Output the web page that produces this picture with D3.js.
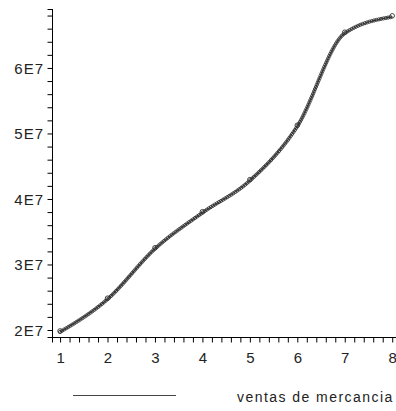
<html>
<head>
  <script src="https://d3js.org/d3.v7.min.js"></script>
  <title>ventas de mercancia</title>
  <style>
    body { margin: 0; background: white; }
    text { font-family: "Liberation Sans", Arial, sans-serif; fill: #222; }
  </style>
</head>
<body>
  <div id="container"></div>
  <script>
    // data (y in units of 1E7)
    var years = [1, 2, 3, 4, 5, 6, 7, 8];
    var ventas = [1.97, 2.47, 3.24, 3.79, 4.28, 5.11, 6.53, 6.78];
    var xTicks = [1, 2, 3, 4, 5, 6, 7, 8];
    var yTicks = [2, 3, 4, 5, 6];
    var yTickLabels = ["2E7", "3E7", "4E7", "5E7", "6E7"];
    var legendLabel = "ventas de mercancia";

    var width = 396, height = 411;
    var svg = d3.select("#container").append("svg")
      .attr("width", width)
      .attr("height", height);

    var x = d3.scaleLinear().domain([0.83, 8.08]).range([52, 396]);
    var y = d3.scaleLinear().domain([1.893, 6.9]).range([337, 9]);

    // y axis
    var yAxis = d3.axisLeft(y)
      .tickValues(d3.range(2, 6.81, 0.2).concat([1.893, 6.9]))
      .tickSize(5)
      .tickFormat(function(d){
        var i = yTicks.findIndex(function(t){ return Math.abs(t - d) < 1e-6; });
        return i >= 0 ? yTickLabels[i] : "";
      });
    var gy = svg.append("g").attr("transform", "translate(52,0)").call(yAxis);
    gy.select(".domain").attr("d", "M0.5," + y(6.9) + "V" + y(1.893)).attr("stroke", "#000");
    gy.selectAll(".tick line").attr("stroke", "#000").attr("transform", "translate(0.5,0)");
    gy.selectAll(".tick text")
      .attr("x", -8)
      .style("font-size", "15px")
      .style("letter-spacing", "1px")
      .attr("dy", "0.36em");

    // x axis
    var xAxis = d3.axisBottom(x)
      .tickValues(d3.range(1, 8.01, 0.2).concat([0.83]))
      .tickSize(5)
      .tickFormat(function(d){
        var i = xTicks.findIndex(function(t){ return Math.abs(t - d) < 1e-6; });
        return i >= 0 ? String(xTicks[i]) : "";
      });
    var gx = svg.append("g").attr("transform", "translate(0,337)").call(xAxis);
    gx.select(".domain").attr("d", "M" + x(0.83) + ",0.5H" + 396).attr("stroke", "#000");
    gx.selectAll(".tick line").attr("stroke", "#000").attr("transform", "translate(0,0.5)");
    gx.selectAll(".tick text")
      .attr("y", 15)
      .style("font-size", "15px");

    // curve
    var pts = years.map(function(d, i){ return [x(d), y(ventas[i])]; });
    var line = d3.line().curve(d3.curveMonotoneX);
    var path = svg.append("path")
      .attr("d", line(pts))
      .attr("fill", "none")
      .attr("stroke", "#333")
      .attr("stroke-width", 1.2);

    // small circle markers along the drawn curve
    var node = path.node();
    var total = node.getTotalLength();
    var samples = d3.range(0, total, 2.4).map(function(l){ return node.getPointAtLength(l); });
    svg.append("g").selectAll("circle")
      .data(samples)
      .enter()
      .append("circle")
      .attr("cx", function(d){ return d.x; })
      .attr("cy", function(d){ return d.y; })
      .attr("r", 1.6)
      .attr("fill", "none")
      .attr("stroke", "#333")
      .attr("stroke-width", 0.9);

    svg.append("g").selectAll("circle")
      .data(years)
      .enter()
      .append("circle")
      .attr("cx", function(d){ return x(d); })
      .attr("cy", function(d, i){ return y(ventas[i]) - 1; })
      .attr("r", 2.3)
      .attr("fill", "none")
      .attr("stroke", "#333")
      .attr("stroke-width", 0.9);

    // legend
    svg.append("line")
      .attr("x1", 73).attr("x2", 176)
      .attr("y1", 395.5).attr("y2", 395.5)
      .attr("stroke", "#444")
      .attr("stroke-width", 1);
    svg.append("text")
      .attr("x", 237)
      .attr("y", 402)
      .style("font-size", "14px")
      .style("letter-spacing", "1.45px")
      .text(legendLabel);
  </script>
</body>
</html>
